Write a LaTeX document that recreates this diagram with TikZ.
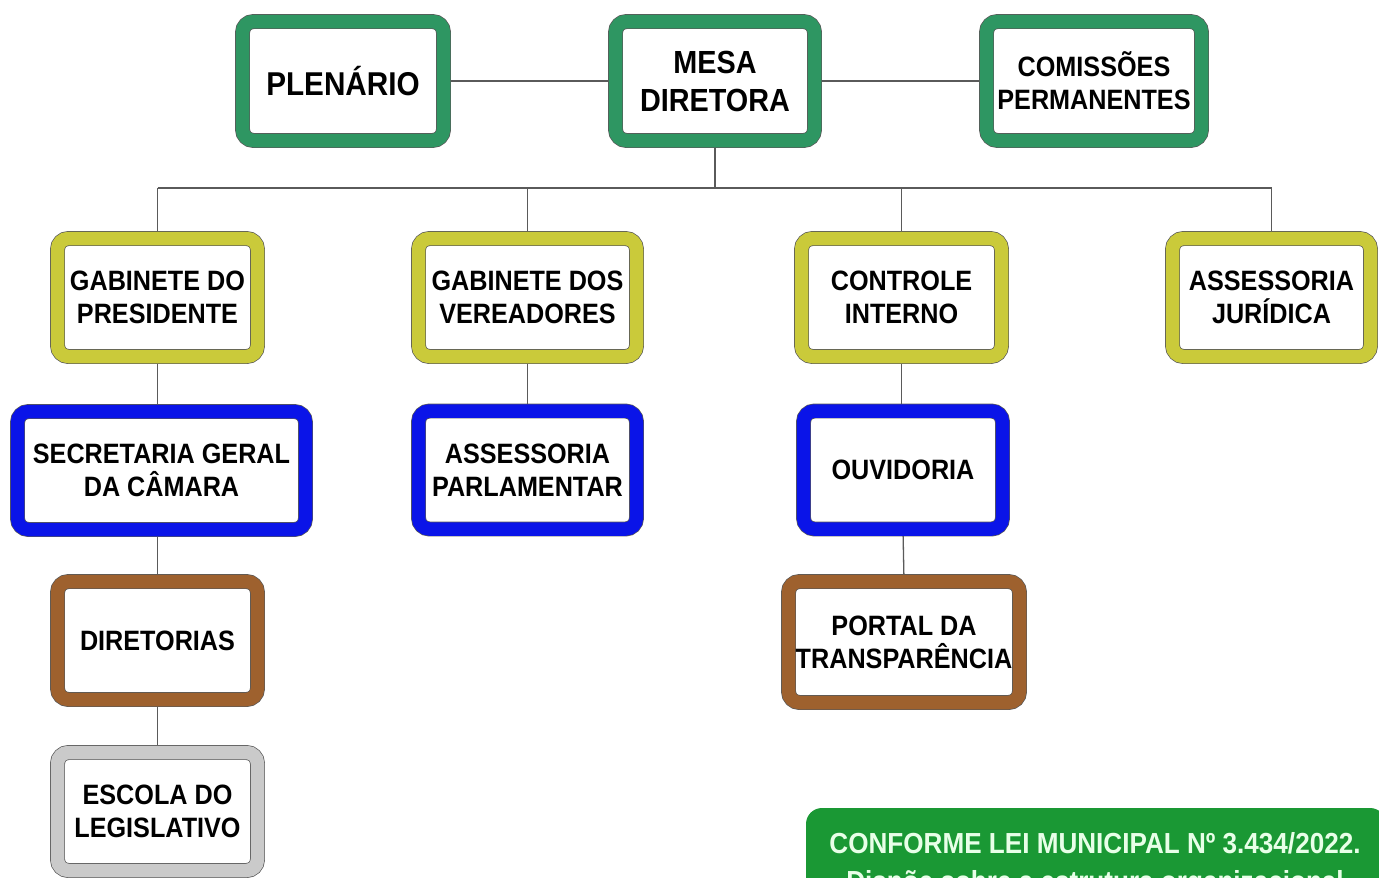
\documentclass[tikz,border=0pt]{standalone}
\usepackage{fontspec}
\setmainfont[FakeStretch=0.9]{Liberation Sans}
\usetikzlibrary{backgrounds}
\definecolor{gbord}{RGB}{46,150,98}
\definecolor{ybord}{RGB}{202,202,58}
\definecolor{bbord}{RGB}{10,20,232}
\definecolor{brbord}{RGB}{158,97,46}
\definecolor{grbord}{RGB}{202,202,202}
\definecolor{notefill}{RGB}{26,152,52}
\definecolor{notetext}{RGB}{232,255,232}
\definecolor{conn}{RGB}{90,90,90}
\tikzset{
  orgbox/.style={draw=black!65, line width=0.7pt, double=#1, double distance=13.5pt,
    fill=white, rounded corners=11pt, inner sep=0pt, align=center,
    font=\bfseries\fontsize{28}{33}\selectfont, text=black},
  conline/.style={draw=conn, line width=1.3pt},
  notebox/.style={fill=notefill, rounded corners=16pt, inner sep=0pt},
  notetxt/.style={text=notetext, font=\bfseries\fontsize{29}{37}\selectfont, anchor=base, inner sep=0pt}
}
\begin{document}
\begin{tikzpicture}[x=1pt,y=-1pt]
\useasboundingbox (0,0) rectangle (1379,878);
% row 1
\node[orgbox=gbord, minimum width=201pt, minimum height=119pt, font=\bfseries\fontsize{33}{38}\selectfont] (plen) at (343,81) {PLENÁRIO};
\node[orgbox=gbord, minimum width=199pt, minimum height=119pt, font=\bfseries\fontsize{32}{38}\selectfont] (mesa) at (715,81) {MESA\\DIRETORA};
\node[orgbox=gbord, minimum width=215pt, minimum height=119pt] (comis) at (1094,81) {COMISSÕES\\PERMANENTES};
% row 2
\node[orgbox=ybord, minimum width=200pt, minimum height=118pt] (gp) at (157.5,297.5) {GABINETE DO\\PRESIDENTE};
\node[orgbox=ybord, minimum width=218pt, minimum height=118pt] (gv) at (527.5,297.5) {GABINETE DOS\\VEREADORES};
\node[orgbox=ybord, minimum width=200pt, minimum height=118pt] (ci) at (901.5,297.5) {CONTROLE\\INTERNO};
\node[orgbox=ybord, minimum width=198pt, minimum height=118pt] (aj) at (1271.5,297.5) {ASSESSORIA\\JURÍDICA};
% row 3
\node[orgbox=bbord, minimum width=288pt, minimum height=118pt] (sg) at (161.5,470.5) {SECRETARIA GERAL\\DA CÂMARA};
\node[orgbox=bbord, minimum width=218pt, minimum height=118pt] (ap) at (527.5,470) {ASSESSORIA\\PARLAMENTAR};
\node[orgbox=bbord, minimum width=199pt, minimum height=118pt] (ouv) at (903,470) {OUVIDORIA};
% row 4
\node[orgbox=brbord, minimum width=200pt, minimum height=118pt] (dir) at (157.5,640.5) {DIRETORIAS};
\node[orgbox=brbord, minimum width=231pt, minimum height=121pt] (ptr) at (904,642) {PORTAL DA\\TRANSPARÊNCIA};
% row 5
\node[orgbox=grbord, minimum width=200pt, minimum height=118pt] (esc) at (157.5,811.5) {ESCOLA DO\\LEGISLATIVO};
% note
\node[notebox, minimum width=580pt, minimum height=110pt] (note) at (1096,863) {};
\node[notetxt] (note1) at (1095,853) {CONFORME LEI MUNICIPAL Nº 3.434/2022.};
\node[notetxt] (note2) at (1095,891) {Dispõe sobre a estrutura organizacional};
\coordinate (bus) at (715,188);
\begin{scope}[on background layer]
\fill[white] (0,0) rectangle (1379,878);
\draw[conline] (plen.east) -- (mesa.west);
\draw[conline] (mesa.east) -- (comis.west);
\draw[conline] (mesa.south) -- (bus);
\draw[conline] (gp.north |- bus) -- (aj.north |- bus);
\draw[conline] (gp.north |- bus) -- (gp.north);
\draw[conline] (gv.north |- bus) -- (gv.north);
\draw[conline] (ci.north |- bus) -- (ci.north);
\draw[conline] (aj.north |- bus) -- (aj.north);
\draw[conline] (gp.south) -- (gp.south |- sg.north);
\draw[conline] (sg.south -| gp.south) -- (dir.north);
\draw[conline] (dir.south) -- (esc.north);
\draw[conline] (gv.south) -- (ap.north);
\draw[conline] (ci.south) -- (ci.south |- ouv.north);
\draw[conline] (ouv.south) -- (ptr.north);
\end{scope}
\end{tikzpicture}
\end{document}
